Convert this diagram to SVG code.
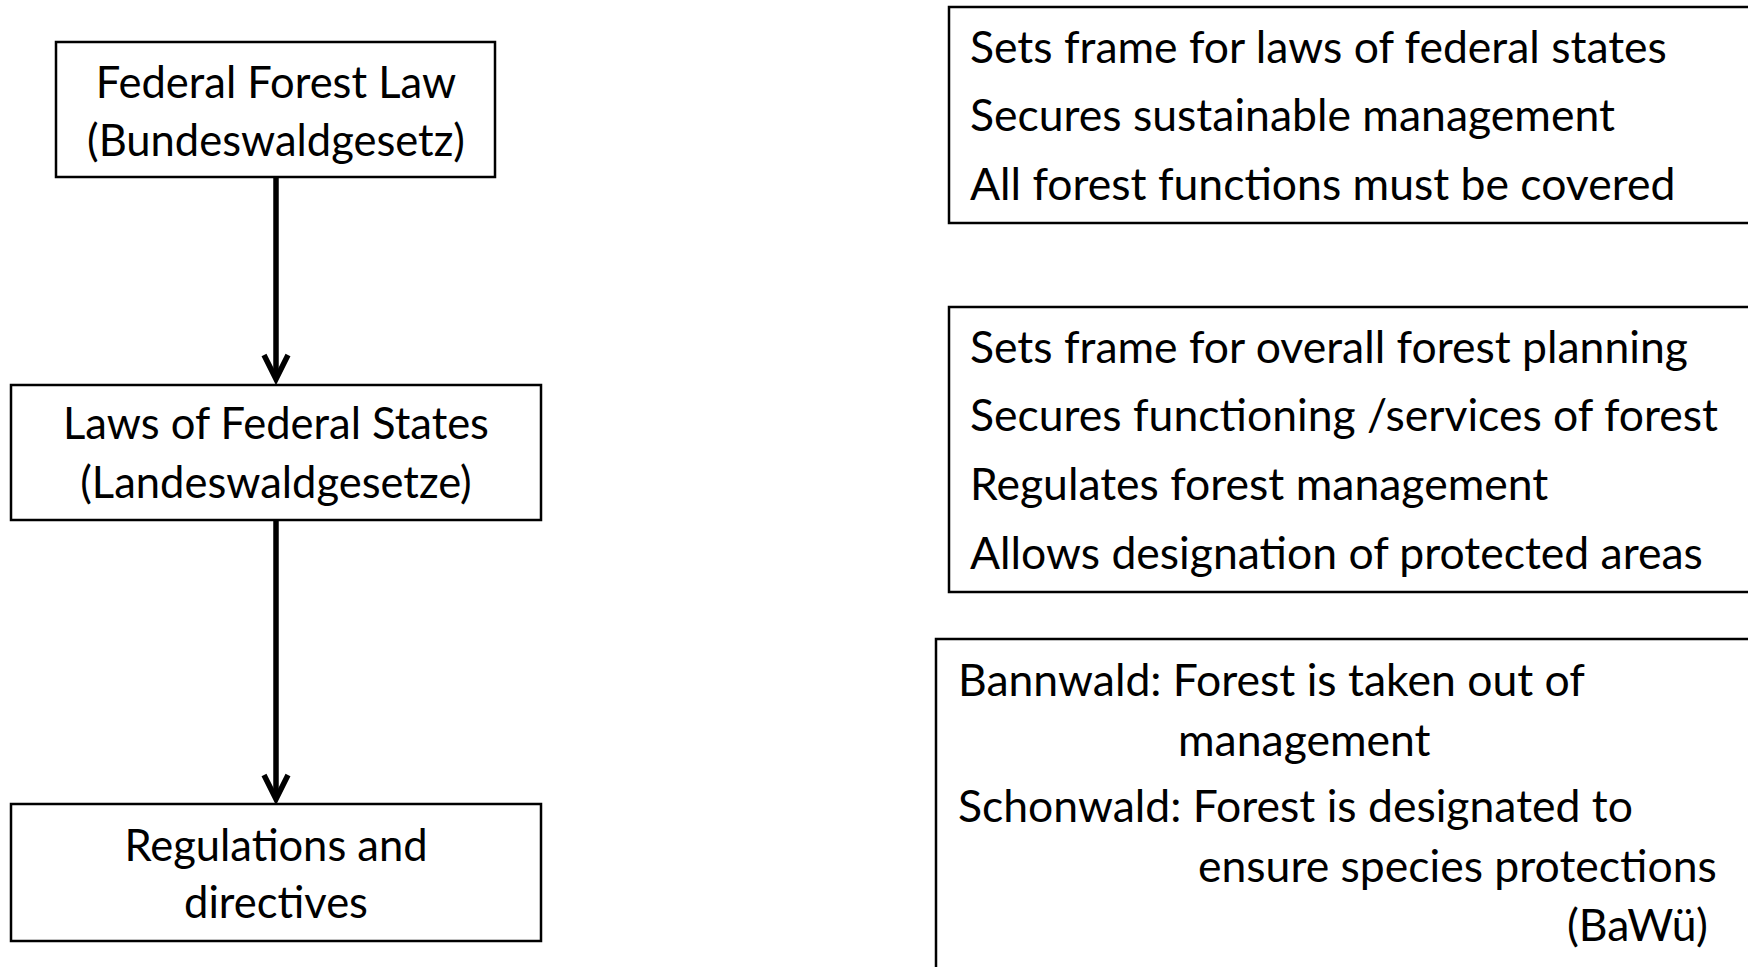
<svg xmlns="http://www.w3.org/2000/svg" width="1748" height="967" viewBox="0 0 1748 967">
<defs>
<style>
.box{fill:#fff;stroke:#000;stroke-width:2.5}
.t{font-family:Lato,"Liberation Sans",sans-serif;font-size:44.5px;fill:#000}
.l{font-size:43.5px;text-anchor:middle}
.conn{stroke:#000;stroke-width:5.5;fill:none}
</style>
<marker id="chev" markerUnits="userSpaceOnUse" orient="auto" refX="0" refY="0" markerWidth="40" markerHeight="40" viewBox="-30 -20 40 40" overflow="visible">
<path d="M-24,-12 L0,0 L-24,12" fill="none" stroke="#000" stroke-width="5.5" stroke-linejoin="miter"/>
</marker>
</defs>
<rect width="1748" height="967" fill="#fff"/>
<g id="federal-forest-law">
<rect class="box" x="56" y="42" width="439" height="135"/>
<text class="t l" x="276" y="98">Federal Forest Law</text>
<text class="t l" x="276" y="156">(Bundeswaldgesetz)</text>
</g>
<g id="laws-federal-states">
<rect class="box" x="11" y="385" width="530" height="135"/>
<text class="t l" x="276" y="439">Laws of Federal States</text>
<text class="t l" x="276" y="498">(Landeswaldgesetze)</text>
</g>
<g id="regulations">
<rect class="box" x="11" y="804" width="530" height="137"/>
<text class="t l" x="276" y="861">Regulations and</text>
<text class="t l" x="276" y="918">directives</text>
</g>
<g id="connectors">
<line class="conn" x1="276" y1="178" x2="276" y2="379" marker-end="url(#chev)"/>
<line class="conn" x1="276" y1="521" x2="276" y2="799" marker-end="url(#chev)"/>
</g>
<g id="federal-notes">
<rect class="box" x="949" y="7" width="820" height="216"/>
<text class="t" x="970" y="63">Sets frame for laws of federal states</text>
<text class="t" x="970" y="131">Secures sustainable management</text>
<text class="t" x="970" y="200">All forest functions must be covered</text>
</g>
<g id="state-notes">
<rect class="box" x="949" y="307" width="820" height="285"/>
<text class="t" x="970" y="363">Sets frame for overall forest planning</text>
<text class="t" x="970" y="431">Secures functioning /services of forest</text>
<text class="t" x="970" y="500">Regulates forest management</text>
<text class="t" x="970" y="569">Allows designation of protected areas</text>
</g>
<g id="protected-areas">
<rect class="box" x="936" y="639" width="840" height="340"/>
<text class="t" x="958" y="696">Bannwald: Forest is taken out of</text>
<text class="t" x="1178" y="756">management</text>
<text class="t" x="958" y="822">Schonwald: Forest is designated to</text>
<text class="t" x="1198" y="882">ensure species protections</text>
<text class="t" x="1708" y="941" text-anchor="end">(BaWü)</text>
</g>
</svg>
